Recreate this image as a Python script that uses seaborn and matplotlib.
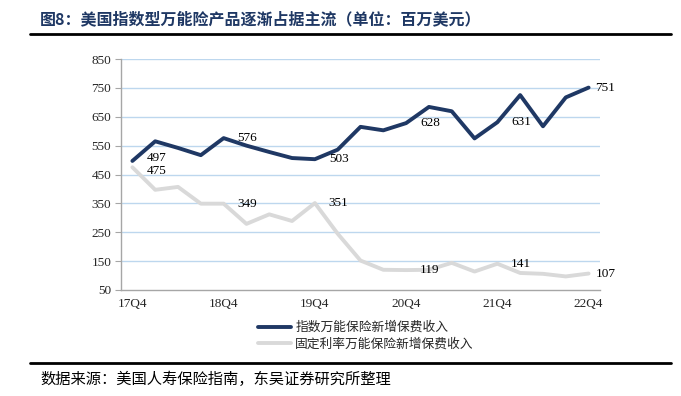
"""
plot.py - 美国指数型万能险产品逐渐占据主流（单位：百万美元）
"""

import numpy as np
import pandas as pd
import matplotlib
matplotlib.use("Agg")
import matplotlib.pyplot as plt
import seaborn as sns
from matplotlib.lines import Line2D

# ── Data ───────────────────────────────────────────────────────────────────
quarters = [
    "17Q4", "18Q1", "18Q2", "18Q3", "18Q4", "19Q1", "19Q2", "19Q3", "19Q4",
    "20Q1", "20Q2", "20Q3", "20Q4", "21Q1", "21Q2", "21Q3", "21Q4",
    "22Q1", "22Q2", "22Q3", "22Q4",
]
indexed_ul = [497, 565, 542, 517, 576, 550, 528, 507, 503, 536, 615, 603,
              628, 684, 669, 575, 631, 725, 617, 717, 751]
fixed_ul = [475, 397, 407, 349, 349, 279, 312, 289, 351, 245, 152, 120,
            119, 120, 144, 114, 141, 109, 106, 97, 107]
series_names = ["指数万能保险新增保费收入", "固定利率万能保险新增保费收入"]
tick_labels = ["17Q4", "18Q4", "19Q4", "20Q4", "21Q4", "22Q4"]
y_ticks = [50, 150, 250, 350, 450, 550, 650, 750, 850]

NAVY = "#1f3864"
LIGHT = "#d9d9d9"
GRID = "#bdd7ee"
AXIS = "#a6a6a6"

df = pd.DataFrame({
    "x": list(range(len(quarters))) * 2,
    "value": indexed_ul + fixed_ul,
    "series": [series_names[0]] * len(quarters) + [series_names[1]] * len(quarters),
})

sns.set_theme(style="white")
plt.rcParams["font.family"] = ["Liberation Serif", "Noto Sans CJK SC", "DejaVu Sans"]
cjk = ["Noto Sans CJK SC", "DejaVu Sans"]

fig = plt.figure(figsize=(6.81, 3.96), dpi=100)
ax = fig.add_axes([121 / 681, 1 - 290 / 396, (600 - 121) / 681, (290 - 59) / 396])

for y in y_ticks[1:]:
    ax.axhline(y, color=GRID, linewidth=1.0, zorder=0)

sns.lineplot(
    data=df, x="x", y="value", hue="series",
    palette={series_names[0]: NAVY, series_names[1]: LIGHT},
    hue_order=[series_names[1], series_names[0]],
    linewidth=2.8, legend=False, ax=ax,
)

# data labels at each Q4, placed right of the point
last = len(quarters) - 1
for i in range(0, len(quarters), 4):
    dx = 5 if i == last else 10
    # first pair sits almost on top of each other, nudge apart a little
    dy_top, dy_bot = (2, -3) if i == 0 else (0, 0)
    ax.annotate(f"{indexed_ul[i]}", (i, indexed_ul[i]), xytext=(dx, dy_top),
                textcoords="offset points", ha="left", va="center",
                fontsize=9.5, color="black")
    ax.annotate(f"{fixed_ul[i]}", (i, fixed_ul[i]), xytext=(dx, dy_bot),
                textcoords="offset points", ha="left", va="center",
                fontsize=9.5, color="black")

ax.set_xlim(-0.5, len(quarters) - 0.5)
ax.set_ylim(50, 850)
ax.set_yticks(y_ticks)
ax.set_yticklabels([str(v) for v in y_ticks], fontsize=9.5)
ax.set_xticks([quarters.index(t) for t in tick_labels])
ax.set_xticklabels(tick_labels, fontsize=9.5)
ax.set_xticks(np.arange(-0.5, len(quarters), 1), minor=True)
ax.tick_params(axis="x", which="major", length=0, pad=6)
ax.tick_params(axis="x", which="minor", direction="in", length=4, color=AXIS, width=0.8)
ax.tick_params(axis="y", direction="out", length=4, color=AXIS, width=0.8, pad=3, left=True)
ax.set_xlabel("")
ax.set_ylabel("")
for side in ["top", "right"]:
    ax.spines[side].set_visible(False)
for side in ["left", "bottom"]:
    ax.spines[side].set_color(AXIS)
    ax.spines[side].set_linewidth(1.0)

# legend below the plot
handles = [Line2D([0], [0], color=NAVY, lw=2.8), Line2D([0], [0], color=LIGHT, lw=2.8)]
fig.legend(handles, series_names, loc="center", bbox_to_anchor=(366 / 681, 1 - 336 / 396),
           frameon=False, prop={"family": cjk, "size": 9.2}, handlelength=2.6,
           handletextpad=0.3, labelspacing=0.3)

# title, rules and source
fig.text(40 / 681, 1 - 19 / 396, "图8：美国指数型万能险产品逐渐占据主流（单位：百万美元）",
         fontsize=11.5, fontweight="bold", color=NAVY, family=cjk, ha="left", va="center")
fig.add_artist(Line2D([30 / 681, 671 / 681], [1 - 34 / 396] * 2, color="black", lw=2.0))
fig.add_artist(Line2D([30 / 681, 671 / 681], [1 - 363 / 396] * 2, color="black", lw=2.0))
fig.text(40 / 681, 1 - 379 / 396, "数据来源：美国人寿保险指南，东吴证券研究所整理",
         fontsize=11, color="black", family=cjk, ha="left", va="center")

fig.savefig("out.png", dpi=100, facecolor="white")
plt.close(fig)
